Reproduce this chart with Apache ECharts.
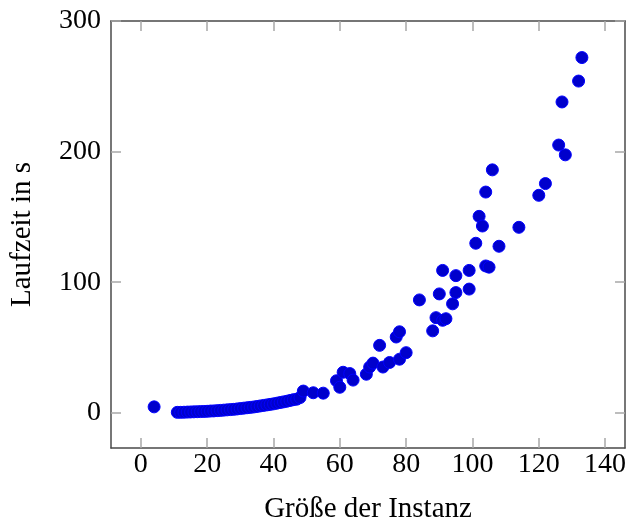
<!DOCTYPE html>
<html>
<head>
<meta charset="utf-8">
<script src="https://cdn.jsdelivr.net/npm/echarts@6/dist/echarts.min.js"></script>
<style>
  html, body { margin: 0; padding: 0; background: #fff; }
  #chart { width: 629px; height: 529px; }
</style>
</head>
<body>
<div id="chart"></div>
<script>
// Größe der Instanz (x) und Laufzeit in s (y)
var sizes = [4,
  11, 12, 13, 14, 15, 16, 17, 18, 19, 20, 21, 22, 23, 24, 25, 26, 27, 28, 29, 30,
  31, 32, 33, 34, 35, 36, 37, 38, 39, 40, 41, 42, 43, 44, 45, 46, 47, 48, 49, 52, 55,
  59, 60, 61, 63, 64, 68, 69, 70, 72, 73, 75, 77, 78, 78, 80,
  84, 88, 89, 90, 91, 91, 92, 94, 95, 95, 99, 99,
  101, 102, 103, 104, 104, 105, 106, 108, 114, 120, 122, 126, 127, 128, 132, 133];
var times = [4.5,
  0.3, 0.3, 0.4, 0.5, 0.6, 0.7, 0.8, 0.9, 1.0, 1.1, 1.3, 1.4, 1.6, 1.8, 2.0, 2.2, 2.4, 2.6, 2.9, 3.2,
  3.5, 3.8, 4.1, 4.4, 4.8, 5.2, 5.6, 6.0, 6.4, 6.8, 7.3, 7.8, 8.3, 8.8, 9.4, 10.0, 10.4, 11.6, 16.6, 15.3, 15,
  24.5, 19.5, 31, 30, 25, 29.5, 35, 38, 51.6, 35, 38.5, 58, 62, 41, 46,
  86.4, 62.7, 72.8, 91, 109, 70.8, 72, 83.4, 92, 105, 109, 94.7,
  129.8, 150.4, 143, 169, 112.4, 111.5, 186, 127.5, 142, 166.5, 175.5, 205, 238, 197.5, 254, 272];

var xTicks = [0, 20, 40, 60, 80, 100, 120, 140];
var yTicks = [0, 100, 200, 300];

var points = sizes.map(function (s, i) {
  return [s, times[i]];
});

var font = "'Liberation Serif', serif";
var lineColor = "#4a4a4a";
var tickColor = "#a8a8a8";

function xAxis(pos, withLabels) {
  return {
    type: "value",
    position: pos,
    min: -9,
    max: 146,
    name: withLabels ? "Größe der Instanz" : "",
    nameLocation: "middle",
    nameGap: 47,
    nameTextStyle: { fontFamily: font, fontSize: 29, color: "#000" },
    axisLine: { show: true, onZero: false, lineStyle: { color: lineColor, width: 1.5 } },
    axisTick: { show: true, inside: true, length: 10, customValues: xTicks, lineStyle: { color: tickColor, width: 1.5 } },
    axisLabel: { show: withLabels, margin: 3, customValues: xTicks, fontFamily: font, fontSize: 28, color: "#000" },
    splitLine: { show: false },
  };
}

function yAxis(pos, withLabels) {
  return {
    type: "value",
    position: pos,
    min: -27,
    max: 300,
    name: withLabels ? "Laufzeit in s" : "",
    nameLocation: "middle",
    nameGap: 74,
    nameRotate: 90,
    nameTextStyle: { fontFamily: font, fontSize: 29, color: "#000" },
    axisLine: { show: true, onZero: false, lineStyle: { color: lineColor, width: 1.5 } },
    axisTick: { show: true, inside: true, length: 10, customValues: yTicks, lineStyle: { color: tickColor, width: 1.5 } },
    axisLabel: { show: withLabels, margin: 10, customValues: yTicks, fontFamily: font, fontSize: 28, color: "#000" },
    splitLine: { show: false },
  };
}

var chart = echarts.init(document.getElementById("chart"), null, { renderer: "canvas" });
chart.setOption({
  animation: false,
  grid: { left: 108, right: 2, top: 21, bottom: 76, containLabel: false },
  xAxis: [xAxis("bottom", true), xAxis("top", false)],
  yAxis: [yAxis("left", true), yAxis("right", false)],
  series: [
    {
      type: "scatter",
      xAxisIndex: 0,
      yAxisIndex: 0,
      symbol: "circle",
      symbolSize: 12,
      itemStyle: { color: "#0000cc", borderColor: "#0000ff", borderWidth: 1, opacity: 1 },
      data: points,
    },
  ],
});
</script>
</body>
</html>
